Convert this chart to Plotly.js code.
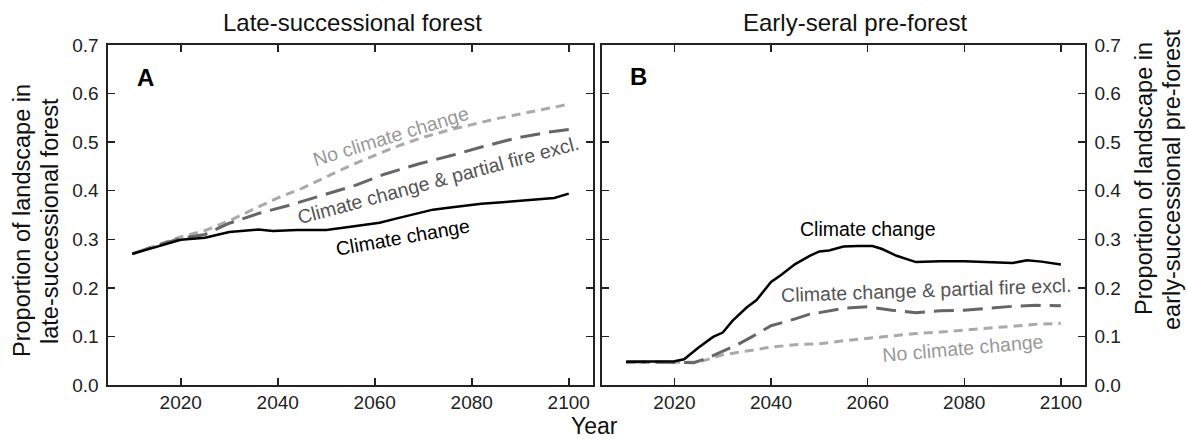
<!DOCTYPE html>
<html>
<head>
<meta charset="utf-8">
<script src="https://cdn.plot.ly/plotly-3.0.1.min.js"></script>
<style>
  html, body { margin: 0; padding: 0; background: #fff; }
  #chart { width: 1187px; height: 442px; }
</style>
</head>
<body>
<div id="chart"></div>
<script>
// ---------- Data ----------
// Panel A: late-successional forest
const yearsA_cc = [2010, 2015, 2020, 2025, 2030, 2036, 2039, 2044, 2050, 2055, 2061, 2065, 2072, 2076, 2082, 2087, 2093, 2097, 2100];
const lateCC    = [0.270, 0.285, 0.299, 0.303, 0.315, 0.320, 0.317, 0.319, 0.319, 0.326, 0.334, 0.344, 0.361, 0.366, 0.373, 0.377, 0.382, 0.385, 0.394];

const yearsA_pf = [2010, 2015, 2020, 2025, 2030, 2036, 2042, 2049, 2056, 2062, 2069, 2076, 2082, 2089, 2096, 2100];
const latePF    = [0.270, 0.287, 0.302, 0.310, 0.333, 0.353, 0.369, 0.390, 0.411, 0.434, 0.455, 0.473, 0.490, 0.508, 0.521, 0.526];

const yearsA_nc = [2010, 2015, 2020, 2025, 2030, 2035, 2040, 2045, 2050, 2055, 2060, 2065, 2070, 2075, 2080, 2085, 2090, 2095, 2100];
const lateNC    = [0.270, 0.287, 0.305, 0.318, 0.338, 0.362, 0.385, 0.405, 0.428, 0.452, 0.473, 0.493, 0.510, 0.524, 0.536, 0.548, 0.558, 0.568, 0.578];

// Panel B: early-seral pre-forest
const yearsB_cc = [2010, 2015, 2020, 2022, 2025, 2028, 2030, 2032, 2035, 2037, 2040, 2042, 2045, 2048, 2050, 2052, 2055, 2058, 2061, 2063, 2066, 2070, 2075, 2080, 2085, 2090, 2093, 2096, 2100];
const earlyCC   = [0.048, 0.048, 0.049, 0.053, 0.077, 0.099, 0.108, 0.132, 0.160, 0.175, 0.212, 0.226, 0.249, 0.266, 0.275, 0.277, 0.285, 0.286, 0.286, 0.280, 0.266, 0.253, 0.255, 0.255, 0.253, 0.251, 0.257, 0.254, 0.248];

const yearsB_pf = [2010, 2020, 2024, 2027, 2030, 2033, 2036, 2040, 2045, 2048, 2050, 2055, 2060, 2065, 2070, 2075, 2080, 2085, 2090, 2095, 2100];
const earlyPF   = [0.048, 0.046, 0.046, 0.056, 0.070, 0.083, 0.099, 0.122, 0.136, 0.146, 0.149, 0.158, 0.161, 0.154, 0.149, 0.153, 0.154, 0.158, 0.162, 0.164, 0.163];

const yearsB_nc = [2010, 2015, 2020, 2025, 2030, 2035, 2040, 2045, 2050, 2055, 2060, 2065, 2070, 2075, 2080, 2085, 2090, 2095, 2100];
const earlyNC   = [0.046, 0.046, 0.046, 0.047, 0.062, 0.070, 0.078, 0.083, 0.085, 0.091, 0.096, 0.101, 0.106, 0.109, 0.113, 0.118, 0.122, 0.125, 0.127];

const xTicks = [2020, 2040, 2060, 2080, 2100];
const yTicks = [0, 0.1, 0.2, 0.3, 0.4, 0.5, 0.6, 0.7];

const panelTitles = ["Late-successional forest", "Early-seral pre-forest"];
const panelLetters = ["A", "B"];
const yTitleLeft  = ["Proportion of landscape in", "late-successional forest"];
const yTitleRight = ["Proportion of landscape in", "early-successional pre-forest"];
const seriesNames = ["Climate change", "Climate change & partial fire excl.", "No climate change"];

// ---------- Styling ----------
const W = 1187, H = 442;
const FONT = "Liberation Sans, Arial, Helvetica, sans-serif";
const COL_CC = "#000000", COL_PF = "#666666", COL_NC = "#aaaaaa";
const TXT_PF = "#555555", TXT_NC = "#999999";
const px = v => v / W;
const py = v => 1 - v / H;

function line(x, y, xa, ya, color, width, dash, name) {
  return { x: x, y: y, xaxis: xa, yaxis: ya, type: "scatter", mode: "lines", name: name,
           line: { color: color, width: width, dash: dash, shape: "linear" },
           hoverinfo: "skip", showlegend: false };
}

const traces = [
  line(yearsA_nc, lateNC, "x", "y", COL_NC, 3, "9px,6px", seriesNames[2]),
  line(yearsA_pf, latePF, "x", "y", COL_PF, 3, "20px,9px", seriesNames[1]),
  line(yearsA_cc, lateCC, "x", "y", COL_CC, 2.5, "solid", seriesNames[0]),
  line(yearsB_nc, earlyNC, "x2", "y2", COL_NC, 3, "9px,6px", seriesNames[2]),
  line(yearsB_pf, earlyPF, "x2", "y2", COL_PF, 3, "20px,9px", seriesNames[1]),
  line(yearsB_cc, earlyCC, "x2", "y2", COL_CC, 2.5, "solid", seriesNames[0])
];

const xBase = {
  range: [2005, 2105], tickvals: xTicks, ticktext: xTicks.map(String),
  ticks: "inside", ticklen: 7, tickwidth: 1.5, tickcolor: "#222",
  showline: true, linewidth: 1.6, linecolor: "#222", mirror: "ticks",
  showgrid: false, zeroline: false, fixedrange: true,
  tickfont: { family: FONT, size: 19, color: "#222" }
};
const yBase = {
  range: [0, 0.7], tickvals: yTicks, tickformat: ".1f",
  ticks: "inside", ticklen: 7, tickwidth: 1.5, tickcolor: "#222",
  showline: true, linewidth: 1.6, linecolor: "#222", mirror: "ticks",
  showgrid: false, zeroline: false, fixedrange: true,
  tickfont: { family: FONT, size: 19, color: "#222" },
  domain: [py(385), py(45)], ticklabelstandoff: 4
};

function ann(text, x, y, opts) {
  return Object.assign({ text: text, x: px(x), y: py(y), xref: "paper", yref: "paper",
    showarrow: false, xanchor: "center", yanchor: "middle",
    font: { family: FONT, size: 19.5, color: "#000" } }, opts || {});
}

const annotations = [
  ann(panelTitles[0], 352, 22, { font: { family: FONT, size: 24, color: "#111" } }),
  ann(panelTitles[1], 855, 22, { font: { family: FONT, size: 24, color: "#111" } }),
  ann("<b>" + panelLetters[0] + "</b>", 145, 77, { font: { family: FONT, size: 24, color: "#000" } }),
  ann("<b>" + panelLetters[1] + "</b>", 638, 76, { font: { family: FONT, size: 24, color: "#000" } }),
  ann(yTitleLeft[0], 22, 221, { textangle: -90, font: { family: FONT, size: 23.5, color: "#111" } }),
  ann(yTitleLeft[1], 50, 221, { textangle: -90, font: { family: FONT, size: 23.5, color: "#111" } }),
  ann(yTitleRight[0], 1144, 179, { textangle: -90, font: { family: FONT, size: 23.5, color: "#111" } }),
  ann(yTitleRight[1], 1172, 180, { textangle: -90, font: { family: FONT, size: 23.5, color: "#111" } }),
  ann("Year", 595, 426, { font: { family: FONT, size: 23, color: "#111" } }),
  // Panel A series labels
  ann(seriesNames[2], 391, 136, { textangle: -17, font: { family: FONT, size: 19.5, color: TXT_NC } }),
  ann(seriesNames[1], 438, 180, { textangle: -15, font: { family: FONT, size: 19.5, color: TXT_PF } }),
  ann(seriesNames[0], 403, 237, { textangle: -10, font: { family: FONT, size: 19.5, color: "#000" } }),
  // Panel B series labels
  ann(seriesNames[0], 868, 229, { font: { family: FONT, size: 19.5, color: "#000" } }),
  ann(seriesNames[1], 926, 290, { textangle: -2, font: { family: FONT, size: 19.5, color: TXT_PF } }),
  ann(seriesNames[2], 963, 348, { textangle: -5, font: { family: FONT, size: 19.5, color: TXT_NC } })
];

const layout = {
  width: W, height: H,
  margin: { l: 0, r: 0, t: 0, b: 0 },
  paper_bgcolor: "#fff", plot_bgcolor: "#fff",
  showlegend: false,
  xaxis:  Object.assign({}, xBase, { domain: [px(108), px(593)], anchor: "y" }),
  xaxis2: Object.assign({}, xBase, { domain: [px(602), px(1085)], anchor: "y2" }),
  yaxis:  Object.assign({}, yBase, { anchor: "x", side: "left" }),
  yaxis2: Object.assign({}, yBase, { anchor: "x2", side: "right" }),
  annotations: annotations
};

Plotly.newPlot("chart", traces, layout, { staticPlot: true, displayModeBar: false });
</script>
</body>
</html>
